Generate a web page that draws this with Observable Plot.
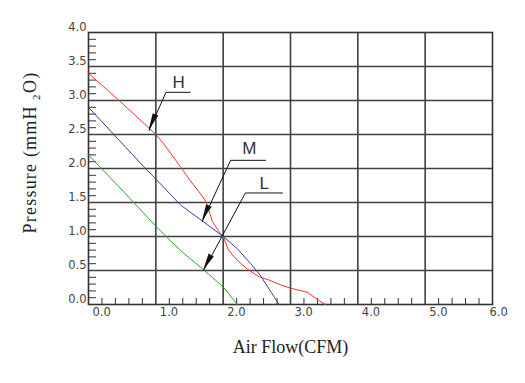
<!DOCTYPE html>
<html><head><meta charset="utf-8">
<script src="https://cdn.jsdelivr.net/npm/d3@7"></script>
<script src="https://cdn.jsdelivr.net/npm/@observablehq/plot@0.6"></script>
<style>body{margin:0;background:#fff}svg{display:block}</style>
</head><body><div id="chart"></div>
<script>
// Axis ticks
const xTicks = [0, 1, 2, 3, 4, 5, 6];
const yTicks = [0, 0.5, 1, 1.5, 2, 2.5, 3, 3.5, 4];
const xMinorTicks = [0.2,0.4,0.6,0.8,1.2,1.4,1.6,1.8,2.2,2.4,2.6,2.8,3.2,3.4,3.6,3.8,4.2,4.4,4.6,4.8,5.2,5.4,5.6,5.8];
const yMinorTicks = [0.1,0.2,0.3,0.4,0.6,0.7,0.8,0.9,1.1,1.2,1.3,1.4,1.6,1.7,1.8,1.9,2.1,2.2,2.3,2.4,2.6,2.7,2.8,2.9,3.1,3.2,3.3,3.4,3.6,3.7,3.8,3.9];

// Series H (red)
const hFlow = [0, 0.5, 1.0, 1.12, 1.37, 1.51, 1.64, 1.74, 1.79, 1.84, 1.96, 2.0, 2.08, 2.21, 2.36, 2.53, 2.68, 2.85, 3.0, 3.25, 3.42, 3.52];
const hPres = [3.40, 2.96, 2.50, 2.36, 2.02, 1.82, 1.66, 1.52, 1.38, 1.22, 1.04, 1.0, 0.80, 0.65, 0.52, 0.41, 0.36, 0.29, 0.24, 0.18, 0.06, 0];
// Series M (blue)
const mFlow = [0, 0.77, 1.14, 1.37, 1.69, 2.0, 2.21, 2.41, 2.55, 2.83];
const mPres = [2.90, 2.08, 1.70, 1.46, 1.23, 1.0, 0.82, 0.60, 0.43, 0];
// Series L (green)
const lFlow = [0, 0.52, 1.02, 1.37, 1.71, 2.01, 2.21];
const lPres = [2.20, 1.66, 1.13, 0.79, 0.51, 0.25, 0];

// Annotations
const annLabels = ["H", "M", "L"];
const annTipX = [0.90, 1.69, 1.71];
const annTipY = [2.56, 1.22, 0.50];
const annElbowX = [1.15, 2.11, 2.33];
const annElbowY = [3.12, 2.12, 1.64];
const annEndX = [1.51, 2.63, 2.88];
const annLabelX = [1.34, 2.39, 2.61];
const annLabelY = [3.26, 2.29, 1.78];

const toPts = (xs, ys) => xs.map((x, i) => ({x, y: ys[i]}));
const leaders = annLabels.flatMap((k, i) => [
  {id: k, x: annTipX[i], y: annTipY[i]},
  {id: k, x: annElbowX[i], y: annElbowY[i]},
  {id: k, x: annEndX[i], y: annElbowY[i]}
]);

const gridColor = "#404040";
const chart = Plot.plot({
  width: 525, height: 383,
  marginLeft: 88, marginRight: 33, marginTop: 32, marginBottom: 79,
  style: {fontFamily: "DejaVu Sans", fontSize: "11.5px", background: "#fff"},
  x: {domain: [0, 6]},
  y: {domain: [0, 4]},
  marks: [
    Plot.gridX(xTicks.slice(1, -1), {stroke: gridColor, strokeOpacity: 1, strokeWidth: 1.6}),
    Plot.gridY(yTicks.slice(1, -1), {stroke: gridColor, strokeOpacity: 1, strokeWidth: 1.6}),
    Plot.axisX(xMinorTicks, {tickSize: -6, tickFormat: () => "", label: null, stroke: "#333"}),
    Plot.axisY(yMinorTicks, {tickSize: -8, tickFormat: () => "", label: null, stroke: "#333"}),
    Plot.frame({stroke: "#333", strokeWidth: 1.6}),
    Plot.axisX(xTicks.slice(0, -1), {tickSize: 0, tickPadding: 3, tickFormat: d3.format(".1f"), textAnchor: "start", dx: 4, label: null, fill: "#444"}),
    Plot.axisX(xTicks.slice(-1), {tickSize: 0, tickPadding: 3, tickFormat: d3.format(".1f"), textAnchor: "start", dx: -3, label: null, fill: "#444"}),
    Plot.axisY(yTicks, {tickSize: 0, tickPadding: 2, tickFormat: d3.format(".1f"), dy: -5, label: null, fill: "#444"}),
    Plot.line(toPts(hFlow, hPres), {x: "x", y: "y", stroke: "#ff2f2f", strokeWidth: 1}),
    Plot.line(toPts(mFlow, mPres), {x: "x", y: "y", stroke: "#3e3e98", strokeWidth: 1}),
    Plot.line(toPts(lFlow, lPres), {x: "x", y: "y", stroke: "#2aa82a", strokeWidth: 1}),
    Plot.line(leaders, {x: "x", y: "y", z: "id", stroke: "#111", strokeWidth: 1}),
    Plot.text(annLabels, {x: (d, i) => annLabelX[i], y: (d, i) => annLabelY[i], fontFamily: "Liberation Sans", fontSize: 17, fill: "#333"}),
    Plot.text(["Air Flow(CFM)"], {frameAnchor: "bottom", textAnchor: "middle", lineAnchor: "middle", dy: 43, fontFamily: "Liberation Serif", fontSize: 18, fill: "#222"}),
    Plot.text(["Pressure (mmH\u2009\u2082O)"], {frameAnchor: "left", textAnchor: "middle", lineAnchor: "middle", dx: -58, dy: -16, rotate: -90, fontFamily: "Liberation Serif", fontSize: 18, fill: "#222"})
  ]
});

// filled arrowheads, positioned through the plot's scales
const sx = chart.scale("x"), sy = chart.scale("y");
const heads = annLabels.map((k, i) => {
  const tx = sx.apply(annTipX[i]), ty = sy.apply(annTipY[i]);
  const ex = sx.apply(annElbowX[i]), ey = sy.apply(annElbowY[i]);
  const len = Math.hypot(ex - tx, ey - ty), ux = (ex - tx) / len, uy = (ey - ty) / len;
  const L = 17, W = 3;
  const bx = tx + ux * L, by = ty + uy * L;
  return `M${tx},${ty}L${bx - uy * W},${by + ux * W}L${bx + uy * W},${by - ux * W}Z`;
});
d3.select(chart).append("g").selectAll("path").data(heads).join("path").attr("d", d => d).attr("fill", "#111");
d3.select(chart).selectAll("text").filter(function() { return this.textContent.startsWith("Pressure"); })
  .attr("letter-spacing", "1.2px");

document.getElementById("chart").append(chart);
</script>
</body></html>
